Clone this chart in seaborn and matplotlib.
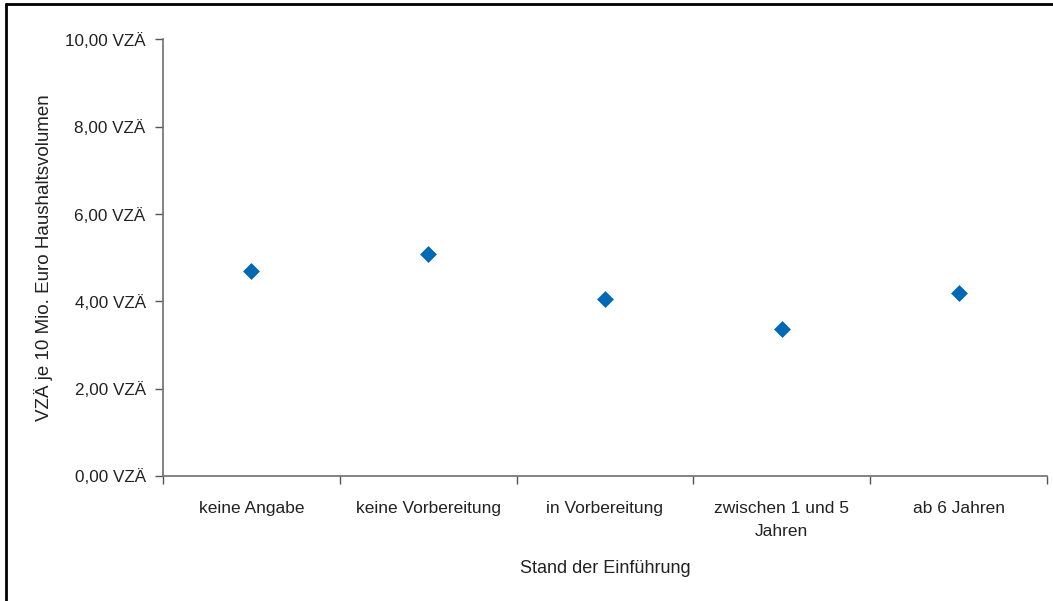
import numpy as np
import pandas as pd
import matplotlib
matplotlib.use("Agg")
import matplotlib.pyplot as plt
from matplotlib.ticker import FuncFormatter, FixedLocator
from matplotlib.lines import Line2D
import seaborn as sns

categories = ["keine Angabe", "keine Vorbereitung", "in Vorbereitung",
              "zwischen 1 und 5 Jahren", "ab 6 Jahren"]
tick_labels = ["keine Angabe", "keine Vorbereitung", "in Vorbereitung",
               "zwischen 1 und 5\nJahren", "ab 6 Jahren"]
values = [4.70, 5.09, 4.06, 3.37, 4.20]
y_ticks = [0, 2, 4, 6, 8, 10]

sns.set_theme(style="white")
plt.rcParams['font.family'] = ['Liberation Sans', 'DejaVu Sans']

df = pd.DataFrame({"Stand": categories, "VZA": values})

fig = plt.figure(figsize=(10.53, 6.01), dpi=100)
ax = fig.add_axes([163/1053, 1 - 476/601, (1047-163)/1053, (476-39.5)/601])

sns.stripplot(data=df, x="Stand", y="VZA", jitter=False, marker="D",
              color="#0068b4", size=8.6, linewidth=0, ax=ax)

ax.set_xlim(-0.5, 4.5)
ax.set_ylim(0, 10)
ax.set_yticks(y_ticks)
ax.yaxis.set_major_formatter(FuncFormatter(lambda v, p: f"{v:.2f}".replace(".", ",") + " VZÄ"))

ax.set_xticks(range(len(categories)))
ax.set_xticklabels(tick_labels, linespacing=1.7)
ax.xaxis.set_minor_locator(FixedLocator(np.arange(-0.5, 5.0, 1.0)))
ax.tick_params(axis="x", which="major", length=0, pad=18, labelsize=12.5, colors="#222222")
ax.tick_params(axis="x", which="minor", length=6, width=1, color="#555555", direction="out", bottom=True)
ax.tick_params(axis="y", which="major", length=6, width=1, color="#555555", direction="out", left=True,
               labelsize=12.3, labelcolor="#222222", pad=6.5)

for s in ["top", "right"]:
    ax.spines[s].set_visible(False)
for s in ["left", "bottom"]:
    ax.spines[s].set_color("#6e6e6e")
    ax.spines[s].set_linewidth(1.2)

ax.set_xlabel("Stand der Einführung", fontsize=13, color="#222222", labelpad=15)
ax.set_ylabel("VZÄ je 10 Mio. Euro Haushaltsvolumen", fontsize=13.5, color="#222222", labelpad=9)

# outer border (top and left visible)
fig.add_artist(Line2D([6/1053, 6/1053], [0, 1 - 4/601], transform=fig.transFigure, color="black", linewidth=2))
fig.add_artist(Line2D([6/1053, 1], [1 - 4/601, 1 - 4/601], transform=fig.transFigure, color="black", linewidth=2))

fig.savefig("out.png", dpi=100)
